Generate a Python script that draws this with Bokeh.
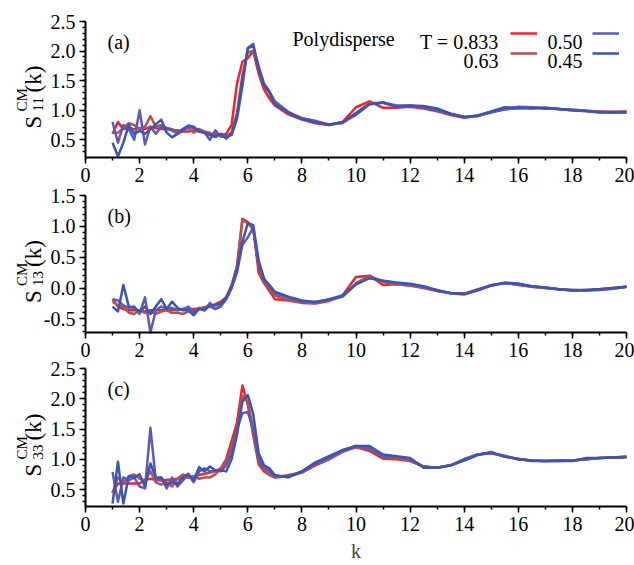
import math
from bokeh.plotting import figure
from bokeh.layouts import column
from bokeh.models import (Label, Legend, LegendItem, Range1d,
                          SingleIntervalTicker, NumeralTickFormatter)
from bokeh.embed import file_html
from bokeh.resources import INLINE

FONT = "Liberation Serif"

# ---------------- data ----------------
k = [1.0, 1.2, 1.4, 1.6, 1.8, 2.0, 2.2, 2.4, 2.6, 2.8, 3.0, 3.2, 3.4, 3.6, 3.8,
     4.0, 4.2, 4.4, 4.6, 4.8, 5.0,
     5.2, 5.4, 5.6, 5.8, 6.0, 6.2, 6.4, 6.6, 6.8, 7.0,
     7.5, 8.0, 8.5, 9.0, 9.5, 10.0, 10.5, 11.0, 11.5, 12.0, 12.5, 13.0, 13.5,
     14.0, 14.5, 15.0, 15.5, 16.0, 16.5, 17.0, 17.5, 18.0, 18.5, 19.0, 19.5, 20.0]

temps = ["0.833", "0.63", "0.50", "0.45"]
colors = ["#f0222a", "#b4524f", "#5c5ab4", "#3a56ae"]

# S11
s11_t0833 = [0.60, 0.80, 0.68, 0.70, 0.68, 0.70, 0.68, 0.72, 0.70, 0.68, 0.68, 0.66, 0.66, 0.64, 0.64,
             0.66, 0.64, 0.62, 0.60, 0.60, 0.58,
             0.60, 0.75, 1.45, 1.82, 1.88, 2.00, 1.62, 1.35, 1.20, 1.08,
             0.93, 0.84, 0.78, 0.75, 0.80, 1.05, 1.15, 1.04, 1.04, 1.06, 1.03, 0.98, 0.92,
             0.87, 0.90, 0.97, 1.02, 1.03, 1.04, 1.03, 1.02, 1.00, 0.99, 0.97, 0.97, 0.98]
s11_t063 = [0.62, 0.62, 0.70, 0.78, 0.75, 0.68, 0.72, 0.90, 0.72, 0.75, 0.70, 0.68, 0.62, 0.68, 0.70,
            0.62, 0.68, 0.64, 0.62, 0.55, 0.60,
            0.56, 0.62, 0.95, 1.60, 1.98, 2.00, 1.70, 1.40, 1.30, 1.12,
            0.95, 0.87, 0.81, 0.76, 0.78, 0.95, 1.12, 1.12, 1.06, 1.07, 1.05, 1.00, 0.93,
            0.88, 0.91, 0.97, 1.01, 1.04, 1.04, 1.04, 1.02, 1.01, 0.99, 0.98, 0.97, 0.97]
s11_t050 = [0.80, 0.45, 0.75, 0.68, 0.50, 1.00, 0.42, 0.72, 0.60, 0.72, 0.70, 0.66, 0.60, 0.65, 0.72,
            0.70, 0.66, 0.62, 0.50, 0.66, 0.55,
            0.55, 0.58, 0.85, 1.40, 2.05, 2.08, 1.75, 1.45, 1.32, 1.15,
            0.97, 0.86, 0.82, 0.76, 0.79, 0.92, 1.10, 1.13, 1.08, 1.08, 1.05, 1.00, 0.94,
            0.89, 0.90, 0.96, 1.02, 1.06, 1.05, 1.03, 1.02, 1.00, 0.99, 0.97, 0.97, 0.97]
s11_t045 = [0.45, 0.22, 0.45, 0.75, 0.60, 0.65, 0.60, 0.68, 0.76, 0.84, 0.62, 0.54, 0.60, 0.68, 0.74,
            0.72, 0.64, 0.62, 0.58, 0.55, 0.60,
            0.52, 0.60, 0.90, 1.50, 2.05, 2.12, 1.70, 1.42, 1.30, 1.10,
            0.96, 0.85, 0.80, 0.75, 0.80, 0.95, 1.10, 1.13, 1.06, 1.08, 1.07, 1.03, 0.94,
            0.88, 0.91, 0.98, 1.05, 1.04, 1.03, 1.04, 1.02, 1.00, 0.98, 0.96, 0.96, 0.96]

# S13
s13_t0833 = [-0.18, -0.30, -0.34, -0.36, -0.36, -0.36, -0.38, -0.36, -0.36, -0.36, -0.35, -0.35, -0.35, -0.34, -0.34,
             -0.34, -0.33, -0.31, -0.29, -0.26, -0.22,
             -0.15, 0.05, 0.35, 1.12, 1.07, 0.98, 0.25, 0.08, -0.05, -0.18,
             -0.20, -0.24, -0.25, -0.21, -0.12, 0.18, 0.20, 0.05, 0.06, 0.04, 0.00, -0.05, -0.08,
             -0.09, -0.03, 0.04, 0.08, 0.05, 0.02, 0.00, -0.02, -0.04, -0.04, -0.03, -0.01, 0.02]
s13_t063 = [-0.22, -0.28, -0.30, -0.40, -0.42, -0.36, -0.40, -0.38, -0.42, -0.38, -0.36, -0.40, -0.40, -0.42, -0.38,
            -0.36, -0.34, -0.32, -0.30, -0.34, -0.28,
            -0.18, 0.00, 0.35, 1.10, 1.05, 0.95, 0.35, 0.10, 0.00, -0.12,
            -0.20, -0.23, -0.24, -0.20, -0.13, 0.08, 0.20, 0.10, 0.06, 0.04, 0.01, -0.04, -0.08,
            -0.09, -0.02, 0.04, 0.08, 0.06, 0.02, 0.00, -0.02, -0.03, -0.03, -0.02, 0.00, 0.02]
s13_t050 = [-0.18, -0.20, -0.28, -0.32, -0.30, -0.42, -0.15, -0.72, -0.36, -0.30, -0.34, -0.32, -0.36, -0.34, -0.30,
            -0.40, -0.32, -0.36, -0.24, -0.34, -0.30,
            -0.18, 0.00, 0.25, 0.70, 0.82, 0.98, 0.40, 0.15, 0.02, -0.08,
            -0.16, -0.22, -0.22, -0.19, -0.14, 0.06, 0.17, 0.12, 0.08, 0.06, 0.02, -0.03, -0.09,
            -0.10, -0.04, 0.04, 0.09, 0.07, 0.03, 0.01, -0.02, -0.03, -0.04, -0.02, -0.01, 0.02]
s13_t045 = [-0.30, -0.38, 0.05, -0.30, -0.32, -0.38, -0.30, -0.42, -0.30, -0.18, -0.34, -0.22, -0.32, -0.36, -0.36,
            -0.44, -0.34, -0.36, -0.28, -0.28, -0.25,
            -0.16, 0.02, 0.30, 0.75, 1.05, 1.02, 0.45, 0.15, 0.05, -0.06,
            -0.14, -0.20, -0.23, -0.18, -0.12, 0.06, 0.16, 0.12, 0.09, 0.07, 0.03, -0.04, -0.08,
            -0.10, -0.03, 0.05, 0.08, 0.07, 0.03, 0.01, -0.02, -0.04, -0.03, -0.02, 0.00, 0.02]

# S33
s33_t0833 = [0.45, 0.60, 0.60, 0.60, 0.60, 0.60, 0.66, 0.68, 0.66, 0.65, 0.66, 0.66, 0.68, 0.70, 0.70,
             0.72, 0.74, 0.76, 0.78, 0.80, 0.85,
             1.00, 1.30, 1.60, 2.22, 1.90, 1.40, 0.92, 0.80, 0.74, 0.70,
             0.72, 0.78, 0.90, 1.00, 1.15, 1.20, 1.14, 1.01, 1.00, 0.97, 0.88, 0.86, 0.90,
             1.00, 1.08, 1.10, 1.05, 1.00, 0.98, 0.97, 0.98, 0.98, 1.00, 1.02, 1.03, 1.04]
s33_t063 = [0.44, 0.70, 0.60, 0.72, 0.75, 0.68, 0.65, 0.80, 0.62, 0.58, 0.62, 0.55, 0.68, 0.75, 0.70,
            0.72, 0.68, 0.70, 0.70, 0.75, 0.85,
            0.95, 1.20, 1.50, 2.05, 1.95, 1.50, 1.00, 0.82, 0.75, 0.70,
            0.74, 0.78, 0.92, 1.00, 1.12, 1.20, 1.17, 1.03, 1.02, 0.98, 0.88, 0.86, 0.90,
            1.00, 1.08, 1.10, 1.06, 1.00, 0.98, 0.97, 0.98, 0.98, 1.00, 1.02, 1.03, 1.04]
s33_t050 = [0.79, 0.30, 0.70, 0.65, 0.70, 0.55, 0.52, 1.52, 0.65, 0.70, 0.52, 0.70, 0.55, 0.65, 0.75,
            0.62, 0.80, 0.85, 0.80, 0.82, 0.80,
            0.90, 1.10, 1.50, 1.76, 1.78, 1.50, 1.00, 0.86, 0.80, 0.72,
            0.72, 0.80, 0.93, 1.02, 1.15, 1.22, 1.18, 1.04, 1.04, 1.00, 0.88, 0.86, 0.90,
            1.00, 1.08, 1.11, 1.05, 1.00, 0.98, 0.97, 0.97, 0.98, 1.00, 1.02, 1.03, 1.03]
s33_t045 = [0.27, 0.96, 0.27, 0.72, 0.70, 0.75, 0.55, 0.93, 0.70, 0.70, 0.58, 0.62, 0.60, 0.70, 0.76,
            0.65, 0.87, 0.80, 0.88, 0.82, 0.82,
            0.80, 1.00, 1.40, 1.95, 2.06, 1.75, 1.10, 0.90, 0.85, 0.74,
            0.70, 0.80, 0.95, 1.05, 1.15, 1.22, 1.22, 1.08, 1.05, 1.02, 0.86, 0.86, 0.90,
            0.98, 1.07, 1.12, 1.04, 1.01, 0.97, 0.97, 0.97, 0.97, 1.02, 1.02, 1.03, 1.04]

x_min, x_max = 0, 20
x_tick_step = 2
y_tick_step = 0.5

# ---------------- layout (pixels of the page) ----------------
W = 634
AX_L = 85          # pixel of k = 0
AX_R = 626         # pixel of k = 20
PPX = (AX_R - AX_L) / (x_max - x_min)


def X(px):
    return x_min + (px - AX_L) / PPX


def make_panel(series, y0, y1, page_top, page_bot, fr_top, fr_bot,
               letter, sub, last=False):
    H = page_bot - page_top
    ppu = (fr_bot - fr_top) / (y1 - y0)
    ystart = y0 - (page_bot - fr_bot) / ppu
    yend = y1 + (fr_top - page_top) / ppu

    def Y(py):
        return yend - (py - page_top) / ppu

    p = figure(frame_width=W, frame_height=H, min_border=0,
               x_range=Range1d(X(0), X(W)), y_range=Range1d(ystart, yend),
               output_backend="svg", toolbar_location=None, tools="")
    p.outline_line_color = None
    p.grid.visible = False
    p.background_fill_color = "white"
    p.border_fill_color = "white"

    p.xaxis.fixed_location = y0
    p.xaxis.bounds = (x_min, x_max)
    p.yaxis.fixed_location = x_min
    p.yaxis.bounds = (y0, y1)
    p.xaxis.ticker = SingleIntervalTicker(interval=x_tick_step, num_minor_ticks=2)
    p.yaxis.ticker = SingleIntervalTicker(interval=y_tick_step, num_minor_ticks=5)
    p.yaxis.formatter = NumeralTickFormatter(format="0.0")
    for ax in (p.xaxis[0], p.yaxis[0]):
        ax.axis_line_width = 2
        ax.axis_line_color = "black"
        ax.major_tick_line_width = 1.5
        ax.minor_tick_line_width = 1.5
        ax.major_tick_line_color = "black"
        ax.minor_tick_line_color = "black"
        ax.major_tick_in = 0
        ax.minor_tick_in = 0
        ax.major_tick_out = 6
        ax.minor_tick_out = 3
        ax.major_label_text_font = FONT
        ax.major_label_text_font_size = "20px"
        ax.major_label_text_color = "black"
    p.xaxis.major_label_standoff = 4
    p.yaxis.major_label_standoff = 4
    if last:
        p.xaxis.axis_label = "k"
        p.xaxis.axis_label_text_font = FONT
        p.xaxis.axis_label_text_font_size = "20px"
        p.xaxis.axis_label_text_font_style = "normal"
        p.xaxis.axis_label_standoff = 6

    rs = []
    for vals, c in zip(series, colors):
        rs.append(p.line(k, vals, line_color=c, line_width=2.5, line_join="round"))

    def lab(px, py, text, size, align="left", angle=0.0):
        p.add_layout(Label(x=X(px), y=Y(py), text=text, text_font=FONT,
                           text_font_size=size, text_color="black",
                           text_align=align, text_baseline="alphabetic",
                           angle=angle))

    lab(107, fr_top + 20, letter, "20px")
    c = (fr_top + fr_bot) / 2
    a = math.pi / 2
    lab(33, c + 39, "S", "23px", angle=a)
    lab(21, c + 22, "CM", "15px", angle=a)
    lab(37, c + 22, sub, "15px", angle=a)
    lab(33, c + 3, "(k)", "23px", angle=a)
    return p, rs, lab


pa, ra, laba = make_panel([s11_t0833, s11_t063, s11_t050, s11_t045],
                          0.2, 2.5, 0, 184, 21, 157, "(a)", "11")
pb, _, _ = make_panel([s13_t0833, s13_t063, s13_t050, s13_t045],
                      -0.72, 1.5, 184, 359, 195, 332, "(b)", "13")
pc, _, _ = make_panel([s33_t0833, s33_t063, s33_t050, s33_t045],
                      0.22, 2.5, 359, 565, 368, 506, "(c)", "33", last=True)

# legend texts (panel a)
laba(292, 38, "Polydisperse", "20px")
laba(498, 41, "T = " + temps[0], "20px", align="right")
laba(547, 41, temps[2], "20px")
laba(498, 60, temps[1], "20px", align="right")
laba(547, 60, temps[3], "20px")

order = [0, 2, 1, 3]
legend = Legend(items=[LegendItem(label="", renderers=[ra[i]]) for i in order],
                location=(510, 184 - 63), orientation="horizontal", ncols=2,
                padding=0, margin=0, spacing=0, glyph_width=27, glyph_height=20,
                label_width=55, label_height=20, label_standoff=0,
                border_line_color=None, background_fill_alpha=0)
pa.add_layout(legend)

layout = column(pa, pb, pc, spacing=0)
open("out.html", "w").write(file_html(layout, INLINE))
